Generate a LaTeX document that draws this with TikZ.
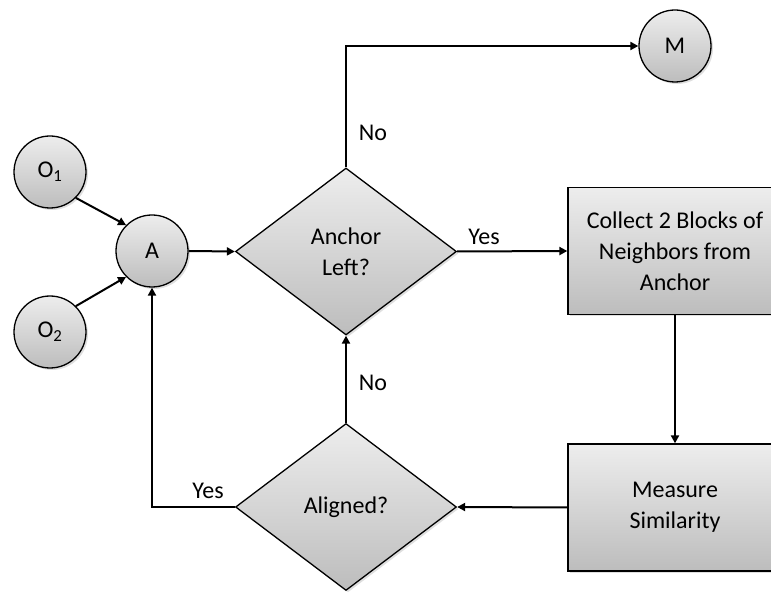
\documentclass[tikz,border=0pt]{standalone}
\usepackage{fontspec}
\setmainfont{Carlito}
\usetikzlibrary{shapes.geometric,arrows.meta,shadows}
\begin{document}
\begin{tikzpicture}[x=1pt,y=-1pt,
  every node/.style={font=\fontsize{24}{31}\selectfont},
  shadebox/.style={draw=black, line width=1.3pt, top color=black!7, bottom color=black!26,
    drop shadow={opacity=0.25,shadow xshift=2pt,shadow yshift=-2pt}},
  circ/.style={shadebox, circle, minimum size=72pt, inner sep=0pt},
  dia/.style={shadebox, diamond, minimum width=221pt, minimum height=167pt, inner sep=0pt, align=center},
  blk/.style={shadebox, rectangle, minimum width=214pt, minimum height=127pt, inner sep=0pt, align=center},
  conn/.style={draw, line width=2pt, -{Triangle[length=8pt,width=8pt]}},
  lbl/.style={inner sep=0pt}
]
\useasboundingbox (0,0) rectangle (771,593);
\clip (0,0) rectangle (771,593);
\node[circ] (o1) at (50,172) {O\textsubscript{1}};
\node[circ] (o2) at (50,332) {O\textsubscript{2}};
\node[circ] (a) at (152,251) {A};
\node[circ] (m) at (675,46) {M};
\node[dia] (anc) at (346,251.5) {Anchor\\Left?};
\node[dia] (ali) at (346,507) {Aligned?};
\node[blk] (col) at (675,251) {Collect 2 Blocks of\\Neighbors from\\Anchor};
\node[blk] (mea) at (675,507.5) {Measure\\Similarity};
\draw[conn] (o1.-45) -- (a.135);
\draw[conn] (o2.45) -- (a.-135);
\draw[conn] (a.east) -- (anc.west);
\draw[conn] (anc.north) |- (m.west);
\draw[conn] (anc.east) -- (col.west);
\draw[conn] (col.south) -- (mea.north);
\draw[conn] (mea.west) -- (ali.east);
\draw[conn] (ali.north) -- (anc.south);
\draw[conn] (ali.west) -| (a.south);
\node[lbl] (l1) at (373,133) {No};
\node[lbl] (l2) at (484,237) {Yes};
\node[lbl] (l3) at (373,383) {No};
\node[lbl] (l4) at (208,491) {Yes};
\end{tikzpicture}
\end{document}
